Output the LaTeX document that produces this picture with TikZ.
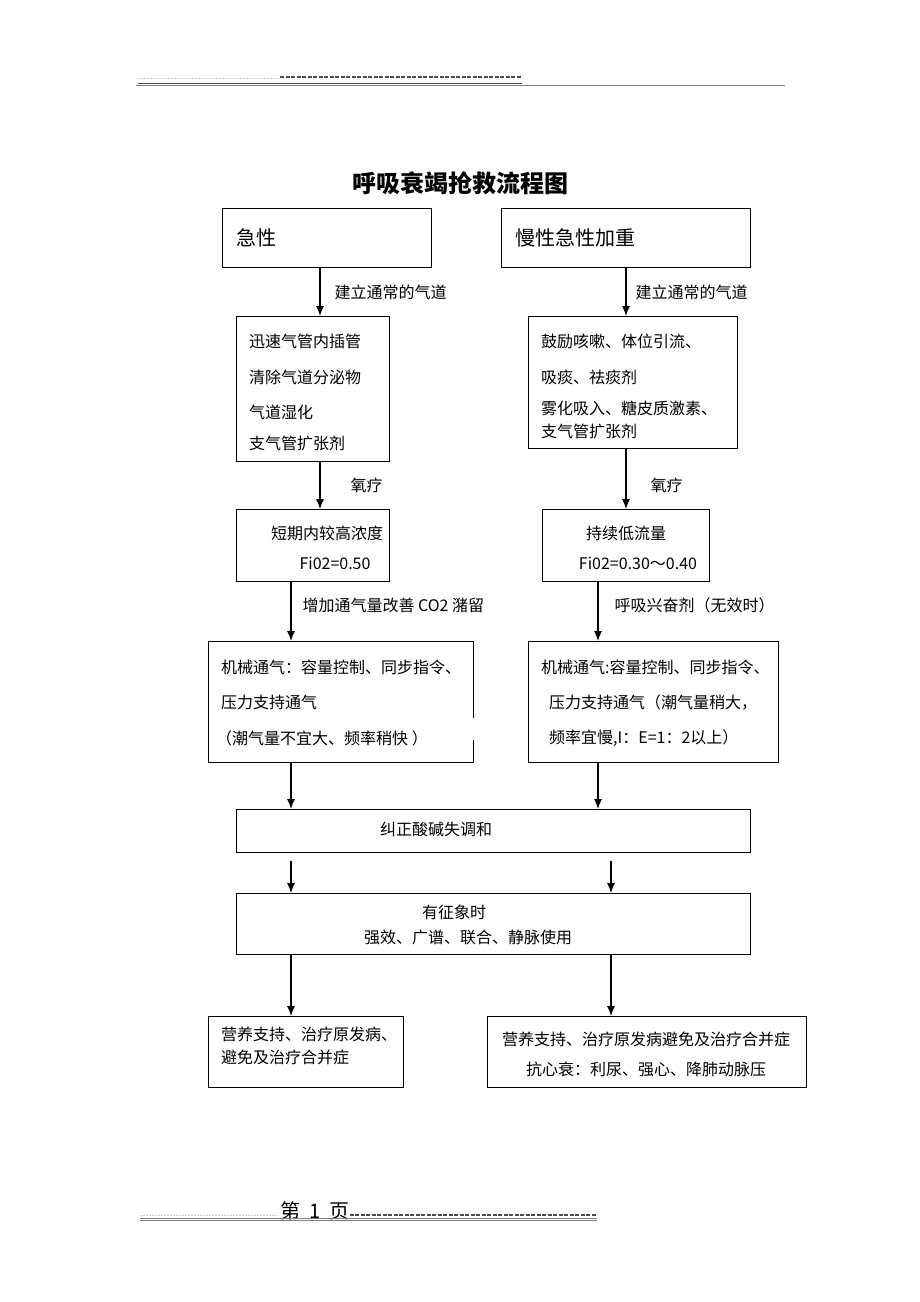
\documentclass[tikz,border=0pt]{standalone}
\usepackage{fontspec}
\setmainfont{Noto Sans CJK SC}
\usetikzlibrary{arrows.meta,positioning,calc}

\tikzset{
  box/.style={draw, line width=0.9pt, inner sep=0pt, anchor=north west},
  txt/.style={font=\fontsize{16}{19}\selectfont, inner sep=0pt, anchor=west},
  big/.style={font=\fontsize{20}{23}\selectfont, inner sep=0pt, anchor=west},
  arr/.style={line width=1.1pt, -{Latex[length=10pt,width=8pt]}},
}

\begin{document}
\begin{tikzpicture}[x=1pt,y=-1pt]
  \useasboundingbox (0,0) rectangle (920,1302);

  % page header and footer rules
  \draw[gray!40, line width=0.8pt, dash pattern=on 2pt off 1pt] (138,78) -- (280,78);
  \draw[black!70, line width=1.3pt, dash pattern=on 4pt off 1.5pt] (280,77) -- (522,77);
  \draw[black!70, line width=0.9pt] (138,83) -- (522,83);
  \draw[gray, line width=0.9pt] (136,85.5) -- (785,85.5);
  \draw[gray!40, line width=0.8pt, dash pattern=on 2pt off 1pt] (140,1215) -- (278,1215);
  \node[font=\fontsize{20}{23}\selectfont, inner sep=0pt, anchor=west] (page) at (280,1211) {第\hspace{9pt}1\hspace{9pt}页};
  \draw[black!70, line width=1.3pt, dash pattern=on 4pt off 1.5pt] (page.east |- 0,1215) -- (597,1215);
  \draw[gray, line width=0.8pt] (140,1218.5) -- (597,1218.5);
  \draw[gray, line width=0.8pt] (140,1220.5) -- (597,1220.5);

  % title
  \node[font=\fontsize{24}{28}\selectfont\bfseries] (title) at (460,183) {呼吸衰竭抢救流程图};

  % boxes
  \node[box, minimum width=209pt, minimum height=59pt] (acute) at (222,208) {};
  \node[box, minimum width=249pt, minimum height=59pt] (chronic) at (501,208) {};
  \node[box, minimum width=153pt, minimum height=145pt] (airA) at (236,316) {};
  \node[box, minimum width=209pt, minimum height=132pt] (airC) at (528,316) {};
  \node[box, minimum width=153pt, minimum height=72pt] (oxA) at (236,509) {};
  \node[box, minimum width=167pt, minimum height=72pt] (oxC) at (542,509) {};
  \node[box, minimum width=265pt, minimum height=121pt] (ventA) at (208,641) {};
  \node[box, minimum width=250pt, minimum height=121pt] (ventC) at (528,641) {};
  \node[box, minimum width=514pt, minimum height=43pt] (acid) at (236,809) {};
  \node[box, minimum width=514pt, minimum height=61pt] (infect) at (236,893) {};
  \node[box, minimum width=195pt, minimum height=71pt] (careA) at (208,1016) {};
  \node[box, minimum width=319pt, minimum height=71pt] (careC) at (487,1016) {};
  \fill[white] (471,718) rectangle (476,740);

  % box texts
  \node[big] (t1) at (236,238) {急性};
  \node[big] (t2) at (515,238) {慢性急性加重};

  \node[txt] (a1) at (249,341) {迅速气管内插管};
  \node[txt] (a2) at (249,377) {清除气道分泌物};
  \node[txt] (a3) at (249,412) {气道湿化};
  \node[txt] (a4) at (249,443) {支气管扩张剂};

  \node[txt] (c1) at (541,341) {鼓励咳嗽、体位引流、};
  \node[txt] (c2) at (541,377) {吸痰、祛痰剂};
  \node[txt] (c3) at (541,408) {雾化吸入、糖皮质激素、};
  \node[txt] (c4) at (541,431) {支气管扩张剂};

  \node[txt, anchor=center] (o1) at (327,533) {短期内较高浓度};
  \node[txt, anchor=center] (o2) at (335,563) {Fi02=0.50};
  \node[txt, anchor=center] (o3) at (626,533) {持续低流量};
  \node[txt, anchor=center] (o4) at (638,563) {Fi02=0.30～0.40};

  \node[txt] (v1) at (221,667) {机械通气：容量控制、同步指令、};
  \node[txt] (v2) at (221,702) {压力支持通气};
  \node[txt] (v3) at (216,738) {（潮气量不宜大、频率稍快\ ）};
  \node[txt] (w1) at (541,667) {机械通气:容量控制、同步指令、};
  \node[txt] (w2) at (549,702) {压力支持通气（潮气量稍大，};
  \node[txt] (w3) at (549,738) {频率宜慢,I：E=1：2以上）};

  \node[txt] (k1) at (380,829) {纠正酸碱失调和};
  \node[txt, anchor=center] (s1) at (454,912) {有征象时};
  \node[txt, anchor=center] (s2) at (468,937) {强效、广谱、联合、静脉使用};

  \node[txt] (n1) at (221,1034) {营养支持、治疗原发病、};
  \node[txt] (n2) at (221,1057) {避免及治疗合并症};
  \node[txt, anchor=center] (m1) at (646,1039) {营养支持、治疗原发病避免及治疗合并症};
  \node[txt, anchor=center] (m2) at (646,1069) {抗心衰：利尿、强心、降肺动脉压};

  % arrow lanes
  \coordinate (la) at (320,0);
  \coordinate (lc) at (626,0);
  \coordinate (lb) at (291,0);
  \coordinate (ld) at (598,0);
  \coordinate (le) at (611,0);

  \draw[arr] (la |- acute.south) -- (la |- airA.north) node[txt, midway, right=14pt] {建立通常的气道};
  \draw[arr] (lc |- chronic.south) -- (lc |- airC.north) node[txt, midway, right=9pt] {建立通常的气道};
  \draw[arr] (la |- airA.south) -- (la |- oxA.north) node[txt, midway, right=30pt] {氧疗};
  \draw[arr] (lc |- airC.south) -- (lc |- oxC.north) node[txt, pos=0.6, right=24pt] {氧疗};
  \draw[arr] (lb |- oxA.south) -- (lb |- ventA.north) node[txt, pos=0.4, right=11pt] {增加通气量改善 CO2 潴留};
  \draw[arr] (ld |- oxC.south) -- (ld |- ventC.north) node[txt, pos=0.4, right=16pt] {呼吸兴奋剂（无效时）};
  \draw[arr] (lb |- ventA.south) -- (lb |- acid.north);
  \draw[arr] (ld |- ventC.south) -- (ld |- acid.north);
  \draw[arr, shorten <=8pt] (lb |- acid.south) -- (lb |- infect.north);
  \draw[arr, shorten <=8pt] (le |- acid.south) -- (le |- infect.north);
  \draw[arr] (lb |- infect.south) -- (lb |- careA.north);
  \draw[arr] (le |- infect.south) -- (le |- careC.north);
\end{tikzpicture}
\end{document}
